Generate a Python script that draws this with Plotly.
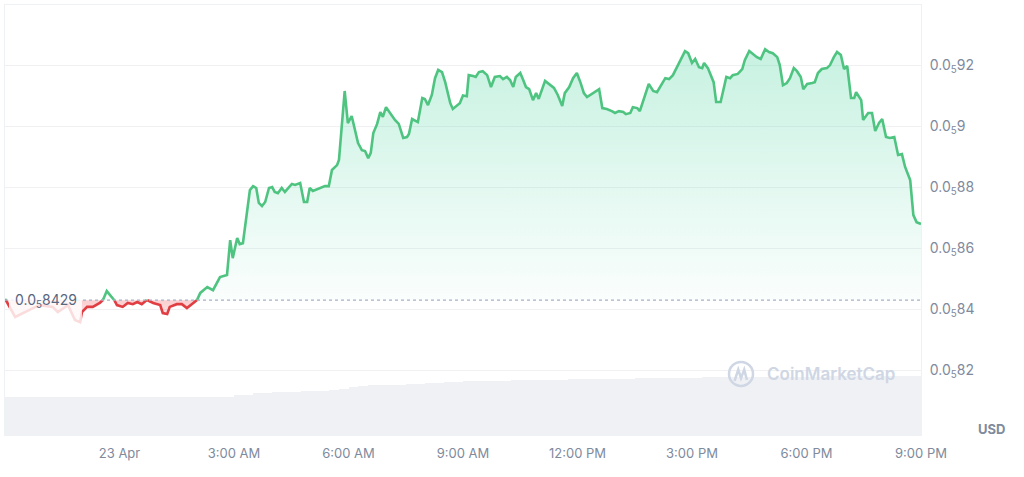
import plotly.graph_objects as go
from datetime import datetime, timedelta

# ---------------- data ----------------
start = datetime(2024, 4, 22, 21, 0)

# minutes after 22 Apr 21:00
minutes = [0, 3, 16, 28, 44, 55, 75, 83, 99, 110, 118, 121, 129, 138, 149, 154, 160, 165, 170, 176,
           185, 193, 201, 208, 215, 223, 233, 244, 248, 255, 259, 270, 278, 286, 294, 302, 307, 318, 327, 338,
           349, 354, 358, 365, 369, 374, 385, 390, 395, 399, 404, 409, 415, 420, 424, 429, 435, 440, 451, 456,
           464, 470, 475, 479, 484, 495, 503, 509, 514, 522, 525, 534, 539, 545, 550, 555, 561, 566, 571, 575,
           579, 585, 590, 594, 599, 605, 613, 619, 626, 632, 635, 640, 645, 649, 656, 660, 665, 671, 676, 681,
           687, 692, 700, 704, 715, 720, 726, 729, 736, 740, 745, 751, 758, 764, 770, 778, 783, 789, 794, 799,
           803, 810, 814, 819, 824, 830, 835, 839, 849, 857, 863, 869, 876, 880, 887, 893, 899, 905, 910, 915,
           924, 934, 939, 946, 954, 959, 965, 972, 976, 983, 987, 994, 998, 1012, 1019, 1025, 1038, 1044, 1050, 1061,
           1069, 1074, 1080, 1085, 1091, 1096, 1099, 1105, 1110, 1114, 1118, 1125, 1134, 1140, 1144, 1152, 1159, 1163, 1170, 1176,
           1182, 1188, 1195, 1201, 1207, 1214, 1218, 1223, 1229, 1234, 1240, 1245, 1251, 1255, 1261, 1269, 1273, 1278, 1284, 1292,
           1297, 1303, 1308, 1314, 1319, 1324, 1330, 1335, 1338, 1346, 1349, 1357, 1363, 1368, 1374, 1379, 1385, 1391, 1398, 1404,
           1410, 1415, 1423, 1428, 1433, 1440]

# price in micro-USD (0.0_5 92 = 9.2e-6 USD)
price_uusd = [8.433, 8.423, 8.374, 8.387, 8.403, 8.413, 8.407, 8.390, 8.413, 8.364, 8.357, 8.390, 8.407, 8.407, 8.420, 8.430, 8.459, 8.446, 8.436, 8.413,
              8.407, 8.420, 8.416, 8.423, 8.416, 8.430, 8.420, 8.413, 8.387, 8.384, 8.407, 8.416, 8.416, 8.403, 8.416, 8.430, 8.453, 8.472, 8.462, 8.505,
              8.512, 8.626, 8.567, 8.633, 8.613, 8.616, 8.790, 8.803, 8.797, 8.748, 8.738, 8.751, 8.797, 8.800, 8.784, 8.780, 8.797, 8.784, 8.810, 8.807,
              8.813, 8.751, 8.751, 8.797, 8.787, 8.797, 8.803, 8.803, 8.856, 8.872, 8.889, 9.115, 9.010, 9.033, 8.987, 8.944, 8.921, 8.918, 8.895, 8.912,
              8.977, 9.007, 9.046, 9.030, 9.062, 9.043, 9.020, 9.007, 8.961, 8.964, 8.974, 9.023, 9.016, 9.013, 9.092, 9.089, 9.069, 9.102, 9.157, 9.184,
              9.177, 9.144, 9.075, 9.056, 9.075, 9.100, 9.098, 9.167, 9.164, 9.161, 9.177, 9.180, 9.167, 9.128, 9.161, 9.164, 9.154, 9.161, 9.151, 9.128,
              9.161, 9.174, 9.154, 9.128, 9.121, 9.085, 9.108, 9.089, 9.148, 9.134, 9.125, 9.102, 9.066, 9.108, 9.128, 9.157, 9.174, 9.141, 9.108, 9.095,
              9.108, 9.121, 9.059, 9.056, 9.049, 9.043, 9.049, 9.046, 9.039, 9.043, 9.062, 9.059, 9.049, 9.138, 9.115, 9.111, 9.157, 9.154, 9.167, 9.210,
              9.246, 9.239, 9.207, 9.220, 9.193, 9.190, 9.207, 9.190, 9.167, 9.144, 9.079, 9.079, 9.161, 9.157, 9.167, 9.171, 9.187, 9.216, 9.246, 9.236,
              9.226, 9.220, 9.252, 9.243, 9.239, 9.226, 9.200, 9.134, 9.141, 9.157, 9.190, 9.180, 9.161, 9.121, 9.138, 9.141, 9.144, 9.174, 9.187, 9.190,
              9.200, 9.226, 9.243, 9.233, 9.187, 9.197, 9.092, 9.092, 9.111, 9.085, 9.020, 9.043, 9.043, 8.984, 9.010, 9.023, 8.964, 8.961, 8.964, 8.905,
              8.908, 8.866, 8.823, 8.708, 8.685, 8.679]

base_price = 8.429  # opening price reference line (0.0_5 8429)

# volume (arbitrary M units) in 15-minute buckets
volume_step_min = 15
volume_m = [8.8] * 24 + [9.3, 9.3, 9.8, 9.8, 10.0, 10.0, 10.0, 10.2, 10.2, 10.2, 10.5, 10.7, 11.2, 11.4,
            11.6, 11.6, 11.6, 11.6, 11.9, 11.9, 12.1, 12.1, 12.3, 12.3, 12.6, 12.6, 12.6, 12.6, 12.6,
            12.8, 12.8, 12.8, 12.8, 12.8, 12.8, 13.0, 13.0, 13.0, 13.0, 13.0, 13.0, 13.0,
            13.3, 13.3, 13.3, 13.3, 13.3, 13.3, 13.3] + [13.5] * 13 + [13.7] * 10

x_tick_hours = [3, 6, 9, 12, 15, 18, 21, 24]
x_tick_labels = ["23 Apr", "3:00 AM", "6:00 AM", "9:00 AM", "12:00 PM", "3:00 PM", "6:00 PM", "9:00 PM"]
y_ticks = [8.2, 8.4, 8.6, 8.8, 9.0, 9.2]
y_tick_labels = ["0.0<sub>5</sub>82", "0.0<sub>5</sub>84", "0.0<sub>5</sub>86",
                 "0.0<sub>5</sub>88", "0.0<sub>5</sub>9", "0.0<sub>5</sub>92"]

# ---------------- helpers ----------------
def T(m):
    return None if m is None else start + timedelta(minutes=m)

pts = []
for i in range(len(minutes)):
    if i > 0:
        a, b = price_uusd[i - 1] - base_price, price_uusd[i] - base_price
        if a * b < 0:
            t = minutes[i - 1] + (minutes[i] - minutes[i - 1]) * a / (a - b)
            pts.append((t, base_price))
    pts.append((minutes[i], price_uusd[i]))

fill_x = [T(p[0]) for p in pts]
fill_up = [max(p[1], base_price) for p in pts]
fill_dn = [min(p[1], base_price) for p in pts]

runs = {"g": ([], []), "r": ([], [])}
cur = None
for j in range(1, len(pts)):
    c = "g" if (pts[j - 1][1] + pts[j][1]) / 2 >= base_price else "r"
    xs, ys = runs[c]
    if c != cur:
        if xs:
            xs.append(None); ys.append(None)
        xs.append(pts[j - 1][0]); ys.append(pts[j - 1][1])
        cur = c
    xs.append(pts[j][0]); ys.append(pts[j][1])

GREEN = "rgb(78,196,128)"
RED = "rgb(224,62,66)"
GRAY = "#808a9d"
FONT = "Inter, Roboto, sans-serif"

fig = go.Figure()

# volume
fig.add_trace(go.Bar(
    x=[T(i * volume_step_min) for i in range(len(volume_m))], y=volume_m,
    width=volume_step_min * 60 * 1000, offset=0,
    marker=dict(color="#eff1f5", line=dict(width=0)), yaxis="y2", hoverinfo="skip"))

# green fill (above base)
fig.add_trace(go.Scatter(x=fill_x, y=[base_price] * len(fill_x), mode="lines",
                         line=dict(width=0), hoverinfo="skip"))
fig.add_trace(go.Scatter(x=fill_x, y=fill_up, mode="lines", line=dict(width=0), fill="tonexty",
                         fillgradient=dict(type="vertical",
                                           colorscale=[[0, "rgba(22,199,132,0.02)"], [1, "rgba(22,199,132,0.24)"]]),
                         hoverinfo="skip"))
# red fill (below base)
fig.add_trace(go.Scatter(x=fill_x, y=[base_price] * len(fill_x), mode="lines",
                         line=dict(width=0), hoverinfo="skip"))
fig.add_trace(go.Scatter(x=fill_x, y=fill_dn, mode="lines", line=dict(width=0), fill="tonexty",
                         fillgradient=dict(type="vertical",
                                           colorscale=[[0, "rgba(234,57,67,0.10)"], [1, "rgba(234,57,67,0.25)"]]),
                         hoverinfo="skip"))

# lines
fig.add_trace(go.Scatter(x=[T(m) for m in runs["g"][0]], y=runs["g"][1], mode="lines",
                         line=dict(color=GREEN, width=2.6), connectgaps=False))
fig.add_trace(go.Scatter(x=[T(m) for m in runs["r"][0]], y=runs["r"][1], mode="lines",
                         line=dict(color=RED, width=2.6), connectgaps=False))

shapes = [
    dict(type="line", xref="paper", yref="y", x0=0, x1=1, y0=base_price, y1=base_price,
         line=dict(color="#a6b0c3", width=1.2, dash="dot"), layer="above"),
    dict(type="rect", xref="paper", yref="paper", x0=0.0044, x1=0.084, y0=0.25, y1=0.355,
         fillcolor="rgba(255,255,255,0.82)", line=dict(width=0), layer="above"),
    dict(type="circle", xref="paper", yref="paper", x0=0.8035 - 0.0131, x1=0.8035 + 0.0131,
         y0=0.142 - 0.0279, y1=0.142 + 0.0279, line=dict(color="#cfd6e4", width=2.5), layer="above"),
    dict(type="path", xref="paper", yref="paper",
         path="M 0.7965,0.126 L 0.8005,0.152 L 0.8035,0.132 L 0.8070,0.152 L 0.8100,0.128",
         line=dict(color="#cfd6e4", width=2.5), layer="above"),
]

annotations = [
    dict(text="0.0<sub>5</sub>8429", xref="paper", yref="y", x=0.0087, y=base_price,
         xanchor="left", yanchor="middle", showarrow=False,
         font=dict(family=FONT, size=14, color="#58667e")),
    dict(text="CoinMarketCap", xref="paper", yref="paper", x=0.830, y=0.142,
         xanchor="left", yanchor="middle", showarrow=False,
         font=dict(family=FONT, size=17, color="#cfd6e4", weight=600)),
    dict(text="USD", xref="paper", yref="paper", x=1.0, y=0.0, xshift=55, yshift=6,
         xanchor="left", yanchor="middle", showarrow=False,
         font=dict(family=FONT, size=13, color=GRAY, weight=700)),
]

fig.update_layout(
    width=1024, height=477,
    margin=dict(l=5, r=103, t=5, b=42),
    paper_bgcolor="white", plot_bgcolor="white",
    showlegend=False, bargap=0,
    font=dict(family=FONT, size=13, color=GRAY),
    shapes=shapes, annotations=annotations,
    xaxis=dict(type="date", range=[T(0), T(1440)],
               tickvals=[T(h * 60) for h in x_tick_hours], ticktext=x_tick_labels,
               showgrid=False, zeroline=False, showline=True, linecolor="#eff2f5", mirror=True,
               ticks="", ticklabelstandoff=6, tickfont=dict(family=FONT, size=13, color=GRAY)),
    yaxis=dict(side="right", range=[7.987, 9.397], tickvals=y_ticks, ticktext=y_tick_labels,
               showgrid=True, gridcolor="#f1f1f3", zeroline=False, showline=True, linecolor="#eff2f5",
               mirror=True, ticks="", ticklabelstandoff=5, tickfont=dict(family=FONT, size=14, color=GRAY)),
    yaxis2=dict(overlaying="y", range=[0, 100], visible=False),
)

fig.write_html("out.html", config={"displayModeBar": False},
               post_script="document.body.style.margin='0px';")
